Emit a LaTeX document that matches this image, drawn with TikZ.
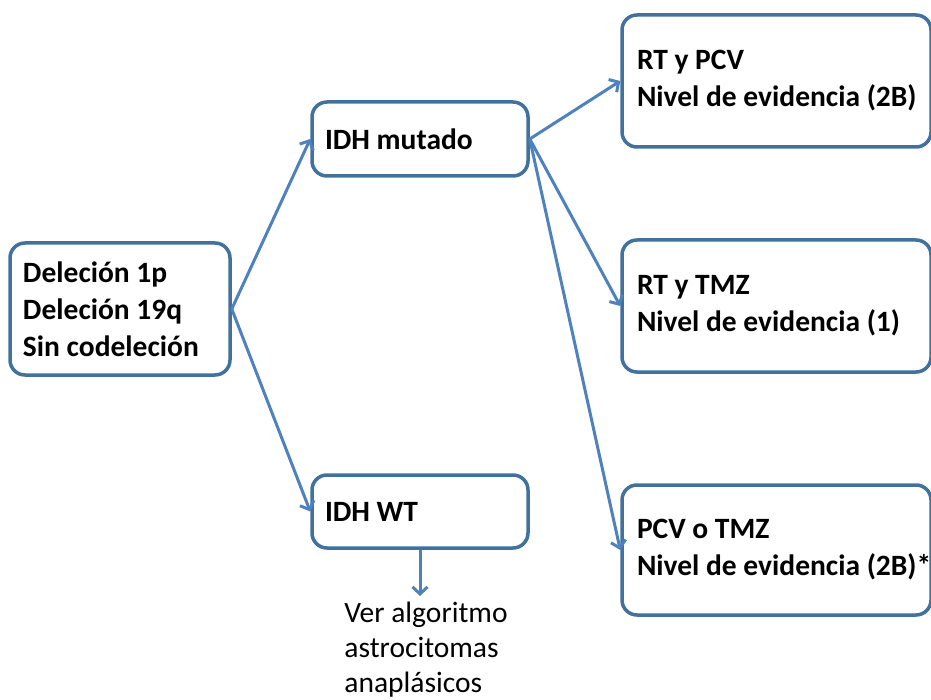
\documentclass[tikz,border=0pt]{standalone}
\usepackage{fontspec}
\setmainfont{Carlito}
\usepackage{tikz}
\usetikzlibrary{arrows.meta}
\usetikzlibrary{positioning}
\definecolor{boxblue}{RGB}{65,113,156}
\definecolor{arrowblue}{RGB}{79,129,189}
\tikzset{box/.style={draw=boxblue, line width=3.5pt, rounded corners=15pt,
    fill=white, align=flush left, inner xsep=13pt,
    font=\fontsize{29.5}{37}\selectfont\bfseries}}
\tikzset{widebox/.style={box, inner xsep=6pt, text width=297pt,
    execute at begin node={\leftskip=9pt}}}

\begin{document}
\begin{tikzpicture}[x=1pt, y=-1pt,
      >={Straight Barb[length=7pt,width=15pt]},
      on grid]

    \useasboundingbox (0,0) rectangle (931,700);

    \node[box, text width=194pt, minimum height=132pt]
      (Delecion) at (120,309) {Deleción 1p\\Deleción 19q\\Sin codeleción};
    \node[box, text width=190pt, minimum height=74pt]
      (Mutado) [above right=170pt and 300pt of Delecion] {IDH mutado};
    \node[box, text width=190pt, minimum height=73pt]
      (Wt) [below right=202.5pt and 300pt of Delecion] {IDH WT};
    \node[widebox, minimum height=132pt]
      (RtPcv) [above right=58pt and 356.5pt of Mutado] {RT y PCV\\Nivel de evidencia (2B)};
    \node[widebox, minimum height=132pt]
      (RtTmz) [below right=167pt and 356.5pt of Mutado] {RT y TMZ\\Nivel de evidencia (1)};
    \node[widebox, minimum height=130pt]
      (PcvTmz) [below=244pt of RtTmz] {PCV o TMZ\\\mbox{Nivel de evidencia (2B)*}};
    \node[align=flush left, font=\fontsize{29.5}{35}\selectfont]
      (Algoritmo) [below right=138.5pt and 6pt of Wt] {Ver algoritmo\\astrocitomas\\anaplásicos};
    \coordinate
      (AlgoritmoTop) at (Wt.south |- 0,596);

    \path[->, color=arrowblue, line width=3pt]
      (Delecion.east) edge (Mutado.west)
      (Delecion.east) edge (Wt.west)
      (Mutado.east) edge (RtPcv.west)
      (Mutado.east) edge (RtTmz.west)
      (Mutado.east) edge (PcvTmz.west)
      (Wt.south) edge (AlgoritmoTop);

  \end{tikzpicture}
\end{document}
